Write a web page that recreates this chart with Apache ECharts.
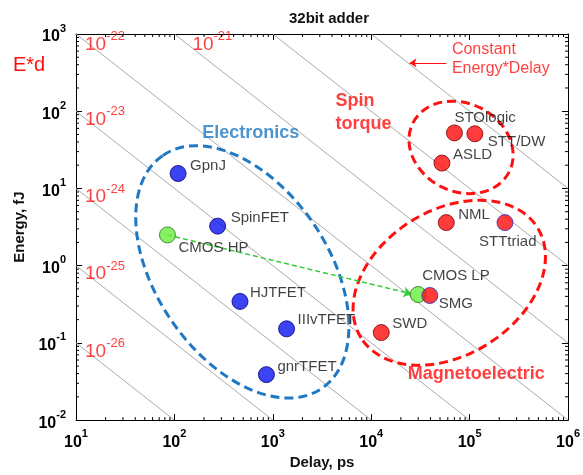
<!DOCTYPE html>
<html><head><meta charset="utf-8">
<script src="https://cdn.jsdelivr.net/npm/echarts@6/dist/echarts.min.js"></script>
<style>html,body{margin:0;padding:0;background:#fff}#c{width:583px;height:475px}</style>
</head><body><div id="c"></div>
<script>
const FONT = "'Liberation Sans', Arial, sans-serif";

// ---- data ----
const devices   = ['GpnJ','SpinFET','CMOS HP','HJTFET','IIIvTFET','gnrTFET','CMOS LP','SMG','SWD','STOlogic','STT/DW','ASLD','NML','STTtriad'];
const delayPs   = [109, 275, 85, 464, 1380, 861, 30000, 39400, 12650, 70100, 113000, 52300, 57900, 228600];
const energyFJ  = [15.6, 3.25, 2.5, 0.344, 0.152, 0.0388, 0.423, 0.411, 0.136, 52.4, 51, 21.3, 3.61, 3.61];
const deviceKind= ['charge','charge','cmos','charge','charge','charge','cmos','spin','spin','spin','spin','spin','spin','spin'];

// constant energy*delay guide lines: log10(E*d in fJ*ps)
const edLevels   = [0, 1, 2, 3, 4, 5, 6, 7];
// printed labels (J*s) for the first levels
const edLabelExp = [-26, -25, -24, -23, -22, -21];

const xTickExp = [1, 2, 3, 4, 5, 6];
const yTickExp = [-2, -1, 0, 1, 2, 3];

// ---- layout / style config ----
const RED = '#ff1010';
const X_MIN = 10, X_MAX = 1e6, Y_MIN = 0.01, Y_MAX = 1000;
const kindStyle = {
  charge: {color:'#0a14f0', border:'#00006e'},
  cmos:   {color:'#66ee3c', border:'#2f6e1e'},
  spin:   {color:'#ff0a0a', border:'#7a0000'}
};
const borderOverride = {'SMG':'#2233cc','STTtriad':'#2233cc'};
const labelOffset = {
  'GpnJ':[12,-8], 'SpinFET':[13,-8], 'CMOS HP':[11,13], 'HJTFET':[10,-9], 'IIIvTFET':[11,-9],
  'gnrTFET':[11,-8], 'CMOS LP':[4,-19], 'SMG':[9,8], 'SWD':[11,-9], 'STOlogic':[0,-15],
  'STT/DW':[13,8], 'ASLD':[11,-8], 'NML':[12,-8], 'STTtriad':[-26,19]
};
// group ellipses (centre in data space, radii px, rotation deg)
const ellipses = [
  {c:[490, 0.83],   rx:141, ry:86,  rot:-55.7, color:'#1f78c4'},
  {c:[81800, 34.0], rx:54,  ry:44,  rot:-27,   color:RED},
  {c:[62100, 0.601],rx:104, ry:72.4,rot:32,    color:RED}
];
const annotations = [
  {t:'Electronics', at:[597, 52.2], color:'#1f78c4', size:18, bold:true, align:'center'},
  {t:'Spin\ntorque', at:[4325, 96.2], color:RED, size:18, bold:true, align:'left', lh:23},
  {t:'Magnetoelectric', at:[117000, 0.0395], color:RED, size:18, bold:true, align:'center'},
  {t:'Constant\nEnergy*Delay', at:[66000, 474], color:RED, size:16, bold:false, align:'left', lh:19}
];
const arrows = [
  {from:[85, 2.5], to:[25700, 0.431], color:'#33cc33', width:1.5, dash:[5,3], size:8},
  {from:[57900, 422], to:[24500, 422], color:RED, width:1, dash:'solid', size:7}
];

function supText(exp){ return '{b|10}{s|' + exp + '}'; }
const tickRich = {
  b:{fontSize:16, fontWeight:'bold', fontFamily:FONT, color:'#000', lineHeight:22, verticalAlign:'bottom'},
  s:{fontSize:11, fontWeight:'bold', fontFamily:FONT, color:'#000', lineHeight:22, verticalAlign:'top'}
};
const edRich = {
  b:{fontSize:19, fontFamily:FONT, color:RED, lineHeight:24, verticalAlign:'bottom'},
  s:{fontSize:13, fontFamily:FONT, color:RED, lineHeight:24, verticalAlign:'top'}
};

// ---- series ----
const series = [];

// constant E*d lines
edLevels.forEach(k => {
  const P = Math.pow(10, k);
  const x1 = Math.max(X_MIN, P / Y_MAX), x2 = Math.min(X_MAX, P / Y_MIN);
  series.push({type:'line', silent:true, symbol:'none', z:1,
    data:[[x1, P/x1],[x2, P/x2]],
    lineStyle:{color:'#a0a0a0', width:0.9}});
});

// E*d labels: each at the upper-left end of its guide line
series.push({type:'scatter', silent:true, z:3, symbolSize:0.1, itemStyle:{color:'rgba(0,0,0,0)'},
  data: edLabelExp.map((e, i) => {
    const P = Math.pow(10, edLevels[i]);
    const x1 = Math.max(X_MIN, P / Y_MAX);
    const onTop = P / X_MIN >= Y_MAX;
    return {value:[x1, P/x1], label:{
      show:true, position:'inside', align:'left', verticalAlign:'top',
      offset: onTop ? (x1 > X_MIN ? [18, -4] : [9, -4]) : [9, -6],
      formatter: supText(e), rich: edRich}};
  })});

// ellipses
series.push({type:'custom', silent:true, z:2, clip:false,
  data: ellipses.map((e, i) => [e.c[0], e.c[1], i]),
  renderItem: (params, api) => {
    const e = ellipses[api.value(2)];
    const p = api.coord([api.value(0), api.value(1)]);
    return {type:'ellipse', x:p[0], y:p[1], rotation: e.rot * Math.PI/180,
      shape:{cx:0, cy:0, rx:e.rx, ry:e.ry},
      style:{fill:'none', stroke:e.color, lineWidth:3, lineDash:[9,5]}};
  }});

// arrows
series.push({type:'line', silent:true, z:2, data:[], markLine:{silent:true, animation:false,
  data: arrows.map(a => [{coord:a.from, symbol:'none', lineStyle:{color:a.color, width:a.width, type:a.dash}},
                         {coord:a.to, symbol:'arrow', symbolSize:a.size}]),
  label:{show:false}}});

// devices
['cmos','charge','spin'].forEach(kind => {
  const st = kindStyle[kind];
  series.push({type:'scatter', z:5, symbolSize:16,
    data: devices.map((n, i) => ({n, i})).filter(o => deviceKind[o.i] === kind).map(o => ({
      name:o.n, value:[delayPs[o.i], energyFJ[o.i]],
      itemStyle:{color:st.color, borderColor: borderOverride[o.n] || st.border, borderWidth:1},
      label:{show:true, position:'inside', align:'left', verticalAlign:'middle',
        offset: labelOffset[o.n], formatter:o.n, color:'#111', fontSize:15, fontFamily:FONT}
    }))});
});

// annotation texts
series.push({type:'scatter', silent:true, z:4, symbolSize:0.1, itemStyle:{color:'rgba(0,0,0,0)'},
  data: annotations.map(a => ({value:a.at, label:{show:true, position:'inside', formatter:a.t,
    align:a.align, verticalAlign:'middle', color:a.color, fontSize:a.size, fontFamily:FONT,
    fontWeight:a.bold?'bold':'normal', lineHeight:a.lh || a.size*1.2}}))});

// minor log ticks on all four sides
const minorVals = [];
xTickExp.slice(0, -1).forEach(e => { for (let m = 2; m <= 9; m++) minorVals.push([m*Math.pow(10,e), 0]); });
yTickExp.slice(0, -1).forEach(e => { for (let m = 2; m <= 9; m++) minorVals.push([m*Math.pow(10,e), 1]); });
series.push({type:'custom', silent:true, z:6, clip:false, data:minorVals,
  renderItem: (params, api) => {
    const cs = params.coordSys; const L = 3;
    const v = api.value(0), isY = api.value(1) === 1;
    if (!isY) {
      const x = api.coord([v, 1])[0];
      return {type:'group', children:[
        {type:'line', shape:{x1:x, y1:cs.y+cs.height, x2:x, y2:cs.y+cs.height-L}, style:{stroke:'#000', lineWidth:1}},
        {type:'line', shape:{x1:x, y1:cs.y, x2:x, y2:cs.y+L}, style:{stroke:'#000', lineWidth:1}}]};
    }
    const y = api.coord([100, v])[1];
    return {type:'group', children:[
      {type:'line', shape:{x1:cs.x, y1:y, x2:cs.x+L, y2:y}, style:{stroke:'#000', lineWidth:1}},
      {type:'line', shape:{x1:cs.x+cs.width, y1:y, x2:cs.x+cs.width-L, y2:y}, style:{stroke:'#000', lineWidth:1}}]};
  }});

const axisCommon = {type:'log', logBase:10, splitLine:{show:false},
  axisLine:{lineStyle:{color:'#000', width:1}},
  axisTick:{inside:true, length:6, lineStyle:{color:'#000'}}, minorTick:{show:false}};

const option = {
  animation:false,
  backgroundColor:'#fff',
  title:{text:'32bit adder', left:324, top:6, textAlign:'center',
    textStyle:{fontSize:15, fontWeight:'bold', fontFamily:FONT, color:'#111'}},
  graphic:[{type:'text', left:13, top:55, style:{text:'E*d', fill:RED, fontSize:20, fontFamily:FONT}}],
  grid:{left:76, right:10, top:34, bottom:48},
  xAxis:[
    Object.assign({}, axisCommon, {position:'bottom', min:X_MIN, max:X_MAX,
      name:'Delay, ps', nameLocation:'middle', nameGap:30,
      nameTextStyle:{fontSize:15, fontWeight:'bold', fontFamily:FONT, color:'#111'},
      axisLabel:{margin:8, formatter:v => supText(Math.round(Math.log10(v))), rich:tickRich}}),
    Object.assign({}, axisCommon, {position:'top', min:X_MIN, max:X_MAX, axisLabel:{show:false}})
  ],
  yAxis:[
    Object.assign({}, axisCommon, {position:'left', min:Y_MIN, max:Y_MAX,
      name:'Energy, fJ', nameLocation:'middle', nameGap:44,
      nameTextStyle:{fontSize:15, fontWeight:'bold', fontFamily:FONT, color:'#111'},
      axisLabel:{margin:10, formatter:v => supText(Math.round(Math.log10(v))), rich:tickRich}}),
    Object.assign({}, axisCommon, {position:'right', min:Y_MIN, max:Y_MAX, axisLabel:{show:false}})
  ],
  series
};
const chart = echarts.init(document.getElementById('c'), null, {renderer:'canvas'});
chart.setOption(option);
</script></body></html>
